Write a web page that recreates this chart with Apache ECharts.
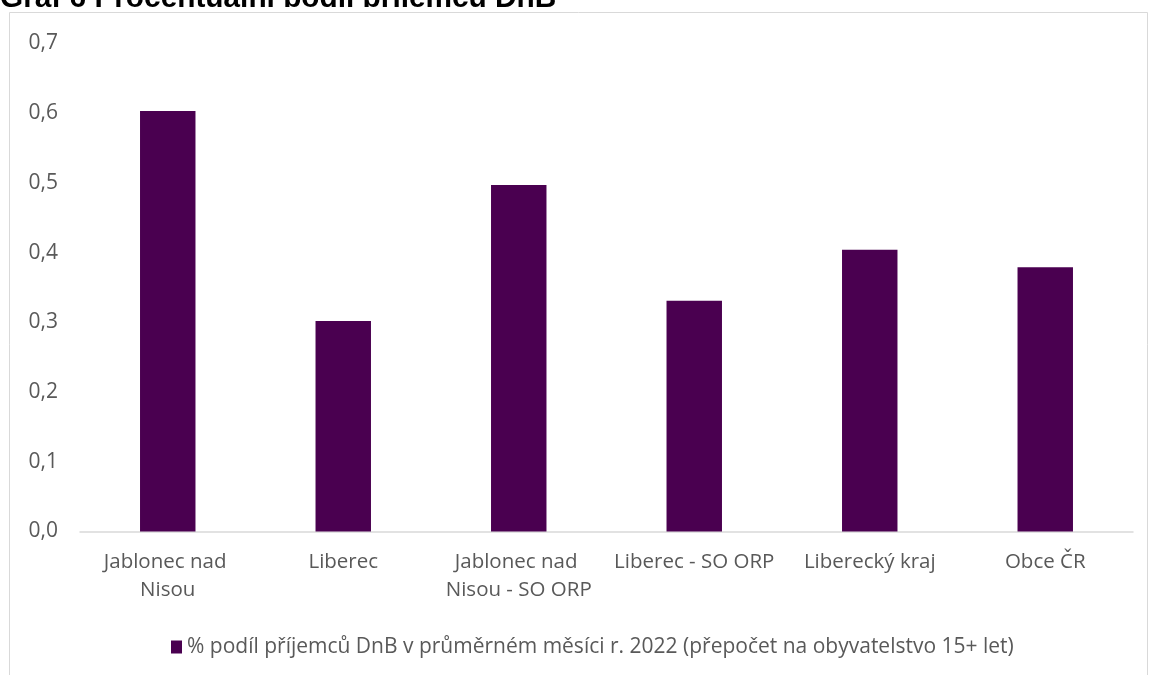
<!DOCTYPE html>
<html>
<head>
<meta charset="utf-8">
<script src="https://cdn.jsdelivr.net/npm/echarts@6/dist/echarts.min.js"></script>
<style>html,body{margin:0;padding:0;background:#fff;}#c{width:1149px;height:675px;}</style>
</head>
<body>
<div id="c"></div>
<script>
const titleText = 'Graf 6 Procentuální podíl příjemců DnB';
const categories = ['Jablonec nad Nisou', 'Liberec', 'Jablonec nad Nisou - SO ORP', 'Liberec - SO ORP', 'Liberecký kraj', 'Obce ČR'];
const seriesName = '% podíl příjemců DnB v průměrném měsíci r. 2022 (přepočet na obyvatelstvo 15+ let)';
const values = [0.603, 0.302, 0.497, 0.331, 0.404, 0.379];

const chart = echarts.init(document.getElementById('c'), null, {renderer: 'canvas'});
const font = '"Open Sans", sans-serif';
chart.setOption({
  animation: false,
  backgroundColor: '#ffffff',
  graphic: [
    {type: 'text', left: 0, top: -16.5, z: 1, style: {text: titleText, font: 'bold 29.8px "Liberation Sans", Arial, sans-serif', fill: '#000'}},
    {type: 'rect', shape: {x: 0, y: 7, width: 1149, height: 700}, style: {fill: '#fff'}, z: 2, silent: true},
    {type: 'rect', shape: {x: 9.5, y: 12.5, width: 1138, height: 700}, style: {fill: 'none', stroke: '#d9d9d9', lineWidth: 1}, z: 3, silent: true}
  ],
  grid: {left: 80, right: 16, top: 43.5, bottom: 143.5, containLabel: false},
  legend: {
    data: [seriesName], top: 631, left: 166, itemWidth: 11, itemHeight: 13, itemGap: 4,
    icon: 'rect', textStyle: {fontFamily: font, fontSize: 21, lineHeight: 22, color: '#595959'}, z: 5
  },
  xAxis: {
    type: 'category', data: categories,
    axisLine: {lineStyle: {color: '#d9d9d9', width: 1.5}},
    axisTick: {show: false},
    axisLabel: {interval: 0, fontFamily: font, fontSize: 20.5, color: '#595959', margin: 16.5, lineHeight: 28, width: 168, overflow: 'break'},
    z: 5
  },
  yAxis: {
    type: 'value', min: 0, max: 0.7, interval: 0.1,
    axisLine: {show: false}, axisTick: {show: false}, splitLine: {show: false},
    axisLabel: {fontFamily: font, fontSize: 21, color: '#595959', margin: 22, formatter: v => v.toFixed(1).replace('.', ',')},
    z: 5
  },
  series: [{
    name: seriesName, type: 'bar', data: values, barWidth: '31.6%', z: 5,
    itemStyle: {color: '#4a0050'}
  }]
});
</script>
</body>
</html>
